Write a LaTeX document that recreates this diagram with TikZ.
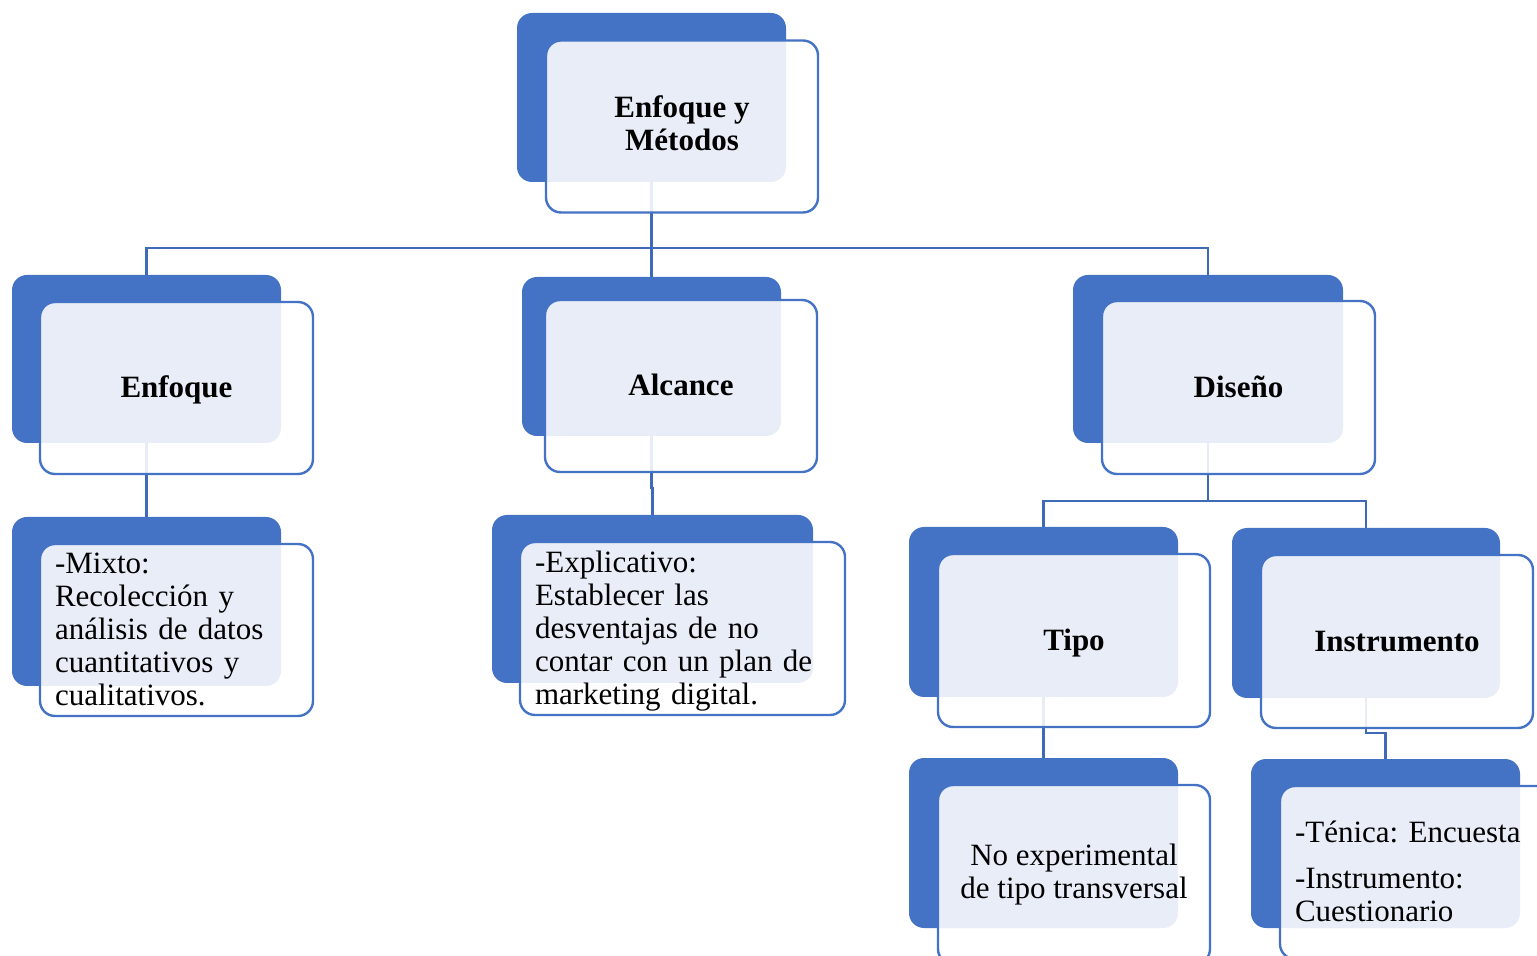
\documentclass[tikz,border=0pt]{standalone}
\usepackage{fontspec}
\setmainfont{Liberation Serif}
\frenchspacing
\definecolor{sablue}{RGB}{68,114,196}
\definecolor{conncol}{RGB}{63,106,184}
\newcommand\boxstrut{\rule[-3.3pt]{0pt}{16.4pt}}
\begin{document}
\begin{tikzpicture}[x=0.5pt,y=-0.5pt,
  backbox/.style={fill=sablue, draw=none, rounded corners=7.5pt, inner sep=0pt, outer sep=0pt},
  frontbox/.style={fill=white, fill opacity=0.88, text opacity=1, draw=sablue, line width=1.2pt,
     rounded corners=7.5pt, inner sep=0pt, outer sep=0pt, align=center,
     font=\fontsize{15.5pt}{16.5pt}\selectfont,
     execute at begin node=\boxstrut, execute at end node=\boxstrut},
  conn/.style={draw=conncol, line width=1.25pt}]
\useasboundingbox (0,0) rectangle (1537,956);
\clip (0,0) rectangle (1537,956);

% connector joints
\coordinate (j1) at (651.5,248);
\coordinate (j3) at (651.5,488);
\coordinate (j4) at (1208,501);
\coordinate (j8) at (1366,733);

% back boxes
\node[backbox, minimum width=134.5pt, minimum height=84.5pt] (b1) at (651.5,97.5) {};
\node[backbox, minimum width=134.5pt, minimum height=84pt] (b2) at (146.5,359) {};
\node[backbox, minimum width=129.5pt, minimum height=79.5pt] (b3) at (651.5,356.5) {};
\node[backbox, minimum width=135pt, minimum height=84pt] (b4) at (1208,359) {};
\node[backbox, minimum width=134.5pt, minimum height=84.5pt] (b5) at (146.5,601.5) {};
\node[backbox, minimum width=160.5pt, minimum height=84pt] (b6) at (652.5,599) {};
\node[backbox, minimum width=134.5pt, minimum height=85pt] (b7) at (1043.5,612) {};
\node[backbox, minimum width=134pt, minimum height=85pt] (b8) at (1366,613) {};
\node[backbox, minimum width=134.5pt, minimum height=85pt] (b9) at (1043.5,843) {};
\node[backbox, minimum width=134.5pt, minimum height=84.5pt] (b10) at (1385.5,843.5) {};

% connectors (drawn before the front boxes so they show faintly through them)
\draw[conn] (b1.south) -- (j1);
\draw[conn] (j1) -| (b2.north);
\draw[conn] (j1) -- (b3.north);
\draw[conn] (j1) -| (b4.north);
\draw[conn] (b2.south) -- (b5.north);
\draw[conn] (b3.south) -- (j3) -| (b6.north);
\draw[conn] (b4.south) -- (j4);
\draw[conn] (j4) -| (b7.north);
\draw[conn] (j4) -| (b8.north);
\draw[conn] (b7.south) -- (b9.north);
\draw[conn] (b8.south) -- (j8) -| (b10.north);

% front boxes
\node[frontbox, minimum width=136pt, minimum height=86pt] (f1) at (682,126.5) {\bfseries Enfoque y\\\bfseries Métodos};
\node[frontbox, minimum width=136.5pt, minimum height=86pt] (f2) at (176.5,388) {\bfseries Enfoque};
\node[frontbox, minimum width=136pt, minimum height=86pt] (f3) at (681,386) {\bfseries Alcance};
\node[frontbox, minimum width=136.5pt, minimum height=86.5pt] (f4) at (1238.5,387.5) {\bfseries Diseño};
\node[frontbox, minimum width=136.5pt, minimum height=86pt, text width=121.5pt, align=left] (f5) at (176.5,630)
  {-Mixto:\\Recolección y\\análisis de datos\\cuantitativos y\\cualitativos.};
\node[frontbox, minimum width=162.5pt, minimum height=86.5pt, text width=147.5pt, align=left] (f6) at (682.5,628.5)
  {-Explicativo:\\Establecer las\\desventajas de no\\contar con un plan de\\marketing digital.};
\node[frontbox, minimum width=136pt, minimum height=86.5pt] (f7) at (1074,640.5) {\bfseries Tipo};
\node[frontbox, minimum width=136pt, minimum height=86.5pt] (f8) at (1397,641.5) {\bfseries Instrumento};
\node[frontbox, minimum width=136pt, minimum height=89.5pt] (f9) at (1074,874.5) {No experimental\\de tipo transversal};
\node[frontbox, minimum width=136pt, minimum height=86.5pt, text width=121pt, align=left] (f10) at (1416,872.5)
  {-Ténica: Encuesta\\[6.5pt]-Instrumento:\\Cuestionario};
\end{tikzpicture}
\end{document}
